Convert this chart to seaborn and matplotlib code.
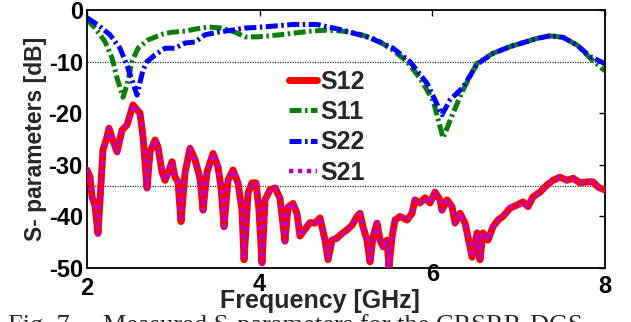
import numpy as np
import pandas as pd
import matplotlib
matplotlib.use('Agg')
import matplotlib.pyplot as plt
import matplotlib.transforms as mtransforms
import seaborn as sns

# S11 (green)
s11_freq = [2.0, 2.093, 2.208, 2.29, 2.348, 2.417, 2.463, 2.521, 2.591, 2.707, 2.869, 2.985,
            3.135, 3.251, 3.402, 3.564, 3.714, 3.83, 3.981, 4.236, 4.386, 4.583, 4.78, 4.965,
            5.162, 5.359, 5.545, 5.707, 5.857, 6.008, 6.124, 6.24, 6.355, 6.518, 6.703, 6.9,
            7.213, 7.363, 7.514, 7.676, 7.826, 8.0]
s11_db = [-1.8, -3.5, -6.1, -9.3, -13.2, -16.9, -14.5, -10.0, -7.4, -5.8, -4.7, -4.3,
          -4.1, -3.7, -3.3, -3.5, -4.3, -5.2, -5.2, -4.8, -4.5, -4.1, -3.9, -4.1,
          -4.7, -5.8, -7.8, -10.0, -13.2, -17.5, -24.8, -20.0, -15.5, -10.3, -8.4, -7.1,
          -5.5, -5.0, -5.3, -6.8, -9.3, -11.8]

# S22 (blue)
s22_freq = [2.0, 2.127, 2.266, 2.382, 2.463, 2.533, 2.579, 2.614, 2.649, 2.695, 2.788, 2.904,
            3.019, 3.135, 3.251, 3.367, 3.517, 3.68, 3.83, 4.027, 4.386, 4.664, 4.965, 5.278,
            5.545, 5.741, 5.938, 6.112, 6.205, 6.355, 6.518, 6.703, 6.9, 7.213, 7.363, 7.514,
            7.676, 7.826, 8.0]
s22_db = [-1.5, -2.9, -4.8, -7.4, -10.7, -14.2, -16.5, -14.0, -11.6, -10.0, -8.7, -7.4,
          -7.4, -6.4, -6.2, -4.8, -4.3, -3.9, -3.5, -3.3, -2.8, -2.8, -3.9, -5.4,
          -7.4, -10.0, -14.2, -20.3, -17.4, -15.0, -10.5, -8.4, -7.1, -5.5, -5.0, -5.3,
          -6.8, -9.0, -10.4]

# S21 / S12 (magenta dotted over red solid)
s21_freq = [2.0, 2.035, 2.058, 2.093, 2.127, 2.151, 2.185, 2.232, 2.255, 2.29, 2.348, 2.405,
            2.463, 2.533, 2.614, 2.649, 2.695, 2.73, 2.788, 2.822, 2.869, 2.904, 2.95, 2.985,
            3.019, 3.054, 3.089, 3.135, 3.193, 3.251, 3.309, 3.344, 3.39, 3.46, 3.517, 3.552,
            3.587, 3.633, 3.691, 3.749, 3.795, 3.819, 3.865, 3.911, 3.958, 3.992, 4.027, 4.062,
            4.12, 4.18, 4.235, 4.259, 4.293, 4.328, 4.386, 4.432, 4.467, 4.525, 4.583, 4.641,
            4.699, 4.757, 4.792, 4.838, 4.896, 4.954, 5.012, 5.07, 5.128, 5.162, 5.197, 5.243,
            5.278, 5.313, 5.359, 5.394, 5.429, 5.475, 5.498, 5.533, 5.568, 5.626, 5.707, 5.765,
            5.799, 5.857, 5.915, 5.973, 6.031, 6.089, 6.112, 6.17, 6.228, 6.263, 6.321, 6.379,
            6.413, 6.46, 6.518, 6.552, 6.587, 6.645, 6.703, 6.761, 6.819, 6.9, 6.981, 7.05,
            7.108, 7.166, 7.247, 7.328, 7.398, 7.479, 7.56, 7.63, 7.711, 7.792, 7.861, 7.919, 8.0]
s21_db = [-31.0, -32.4, -36.2, -38.0, -43.3, -36.8, -27.1, -24.6, -22.9, -24.8, -27.5, -23.3,
          -22.3, -18.4, -20.0, -24.6, -34.5, -27.5, -25.2, -26.5, -31.4, -33.0, -31.0, -29.4,
          -32.4, -33.3, -41.0, -31.6, -26.8, -29.0, -32.6, -38.8, -31.4, -27.8, -30.4, -34.3,
          -42.0, -33.0, -31.0, -33.5, -38.8, -48.4, -35.5, -33.5, -33.5, -38.8, -49.0, -36.8,
          -34.8, -34.5, -36.5, -40.0, -44.8, -38.2, -37.5, -39.4, -43.8, -42.5, -41.2, -41.3,
          -40.3, -44.6, -48.4, -44.6, -44.2, -43.3, -42.6, -41.7, -40.0, -39.4, -42.0, -44.6,
          -48.8, -44.0, -41.3, -44.6, -45.9, -44.6, -49.8, -44.0, -40.7, -40.0, -40.7, -39.4,
          -36.8, -37.4, -36.4, -37.4, -35.3, -36.8, -38.8, -36.8, -38.1, -41.3, -39.4, -41.3,
          -44.0, -47.9, -43.2, -48.4, -43.2, -44.6, -42.0, -40.7, -40.0, -38.4, -37.8, -37.2,
          -38.1, -36.2, -35.3, -33.9, -33.0, -32.4, -33.0, -32.6, -33.5, -33.3, -33.3, -34.3, -34.9]
s12_freq = s21_freq
s12_db = s21_db

ref_levels = [-10, -34.2]
x_ticks = [2, 4, 6, 8]
y_ticks = [0, -10, -20, -30, -40, -50]

sns.set_style('white')
plt.rcParams['font.family'] = ['Liberation Sans', 'DejaVu Sans']
plt.rcParams['font.weight'] = 'bold'
plt.rcParams['axes.unicode_minus'] = False

fig = plt.figure(figsize=(6.31, 3.22), dpi=100)
ax = fig.add_axes([0.1379, 0.1677, 0.8209, 0.8012])

for lvl in ref_levels:
    ax.axhline(lvl, color='#333333', lw=0.9, ls=(0, (1, 1)), zorder=1)

sns.lineplot(x=s12_freq, y=s12_db, ax=ax, color='#ff0000', lw=5, sort=False,
             estimator=None, label='S12', zorder=3)
sns.lineplot(x=s11_freq, y=s11_db, ax=ax, color='#0a7d0a', lw=3.6, sort=False,
             estimator=None, label='S11', ls=(0, (2.4, 0.7, 0.5, 0.7)), zorder=2)
sns.lineplot(x=s22_freq, y=s22_db, ax=ax, color='#0000ff', lw=3.6, sort=False,
             estimator=None, label='S22', ls=(0, (2.4, 0.7, 0.5, 0.7)), zorder=2)
sns.lineplot(x=s21_freq, y=s21_db, ax=ax, color='#bb00c4', lw=3.2, sort=False,
             estimator=None, label='S21', ls=(0, (1, 1)), zorder=4)

ax.set_xlim(2, 8)
ax.set_ylim(-50, 0)
ax.set_xticks(x_ticks)
ax.set_yticks(y_ticks)
ax.tick_params(direction='in', length=4, width=1, top=True, right=True,
               labelsize=17, pad=3, colors='black')
for sp in ax.spines.values():
    sp.set_color('black')
    sp.set_linewidth(1.3)

# the x tick labels sit at uneven heights in the original export
shifts_px = [-5, -1, 9, -3]
for lab, dy in zip(ax.get_xticklabels(), shifts_px):
    lab.set_transform(lab.get_transform() +
                      mtransforms.ScaledTranslation(0, dy / 100, fig.dpi_scale_trans))

ax.set_xlabel('Frequency [GHz]', fontsize=18, fontweight='bold', labelpad=-5)
ax.xaxis.set_label_coords(0.45, -0.08)
ax.set_ylabel('S- parameters [dB]', fontsize=16.5, fontweight='bold', labelpad=1)

leg = ax.legend(loc='upper left', bbox_to_anchor=(0.39, 0.768), frameon=False,
                fontsize=18, handlelength=1.1, handletextpad=0.15, labelspacing=0.25,
                borderaxespad=0, borderpad=0)
for t in leg.get_texts():
    t.set_fontweight('bold')

fig.text(0.012, 1 - 314 / 322, 'Fig. 7.    Measured S-parameters for the CRSRR-DGS',
         fontsize=19, family=['Liberation Serif', 'DejaVu Serif'], fontweight='normal',
         va='top')

fig.savefig('out.png', dpi=100)
